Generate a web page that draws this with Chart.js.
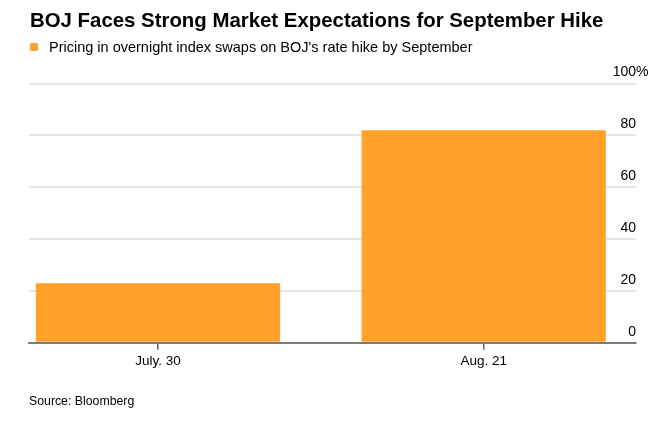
<!DOCTYPE html>
<html>
<head>
<meta charset="utf-8">
<script src="https://cdn.jsdelivr.net/npm/chart.js@4"></script>
<style>
  body { margin: 0; background: #fff; }
  #wrap { position: relative; width: 662px; height: 422px; font-family: "Liberation Sans", Arial, sans-serif; color: #000; }
  #wrap canvas { position: absolute; left: 0; top: 0; }
  .title { position: absolute; left: 30px; top: 10px; font-size: 20.4px; line-height: 20px; font-weight: bold; white-space: nowrap; }
  .legend { position: absolute; left: 49px; top: 38.7px; font-size: 14.5px; line-height: 16px; white-space: nowrap; }
  .legend .box { position: absolute; left: -19px; top: 4.5px; width: 8px; height: 8px; border-radius: 1.5px; background: #ffa12b; }
  .source { position: absolute; left: 29px; top: 393.7px; font-size: 12.3px; line-height: 14px; white-space: nowrap; }
</style>
</head>
<body>
<div id="wrap">
  <canvas id="chart"></canvas>
  <div class="title">BOJ Faces Strong Market Expectations for September Hike</div>
  <div class="legend"><span class="box"></span>Pricing in overnight index swaps on BOJ's rate hike by September</div>
  <div class="source">Source: Bloomberg</div>
</div>
<script>
const categories = ['July. 30', 'Aug. 21'];
const values = [23, 82];
const yTicks = [0, 20, 40, 60, 80, 100];

// '%' hangs to the right of the top label, outside the alignment
const percentSign = {
  id: 'percentSign',
  afterDraw(chart) {
    const y = chart.scales.y;
    const ctx = chart.ctx;
    ctx.save();
    ctx.font = '14px "Liberation Sans", Arial, sans-serif';
    ctx.fillStyle = '#000';
    ctx.textAlign = 'left';
    ctx.textBaseline = 'middle';
    ctx.fillText('%', chart.chartArea.right, y.getPixelForValue(100) - 11);
    ctx.restore();
  }
};

const data = {
  datasets: [{
    label: 'Pricing in overnight index swaps on BOJ\'s rate hike by September',
    data: values.map((v, i) => ({ x: i, y: v })),
    backgroundColor: '#ffa12b',
    borderWidth: 0,
    barPercentage: 0.75,
    categoryPercentage: 1,
  }]
};

const config = {
  type: 'bar',
  data: data,
  plugins: [percentSign],
  options: {
    responsive: false,
    animation: false,
    layout: { padding: { left: 29, right: 26, top: 83.5, bottom: 50 } },
    plugins: {
      legend: { display: false },
      title: { display: false },
      tooltip: { enabled: false },
    },
    scales: {
      x: {
        type: 'linear',
        offset: false,
        min: -0.396,
        max: 1.4677,
        afterBuildTicks(scale) {
          scale.ticks = categories.map((c, i) => ({ value: i }));
        },
        ticks: {
          callback: (v) => categories[v],
          color: '#000',
          font: { family: '"Liberation Sans", Arial, sans-serif', size: 13.5 },
          padding: 3,
          maxRotation: 0,
        },
        grid: {
          offset: false,
          drawOnChartArea: false,
          drawTicks: true,
          tickLength: 7,
          color: '#666',
          lineWidth: 1.5,
        },
        border: { display: true, color: '#7a7a7a', width: 2 },
      },
      y: {
        position: 'right',
        min: 0,
        max: 100,
        afterBuildTicks(scale) {
          scale.ticks = yTicks.map(v => ({ value: v }));
        },
        ticks: {
          mirror: true,
          padding: 0,
          labelOffset: -11,
          color: '#000',
          font: { family: '"Liberation Sans", Arial, sans-serif', size: 14 },
        },
        grid: {
          drawTicks: false,
          color: (c) => c.tick && c.tick.value === 0 ? 'rgba(0,0,0,0)' : '#e6e6e6',
          lineWidth: 2,
        },
        border: { display: false },
      }
    }
  }
};

const canvas = document.getElementById('chart');
canvas.width = 662;
canvas.height = 422;
const chart = new Chart(canvas, config);
</script>
</body>
</html>
